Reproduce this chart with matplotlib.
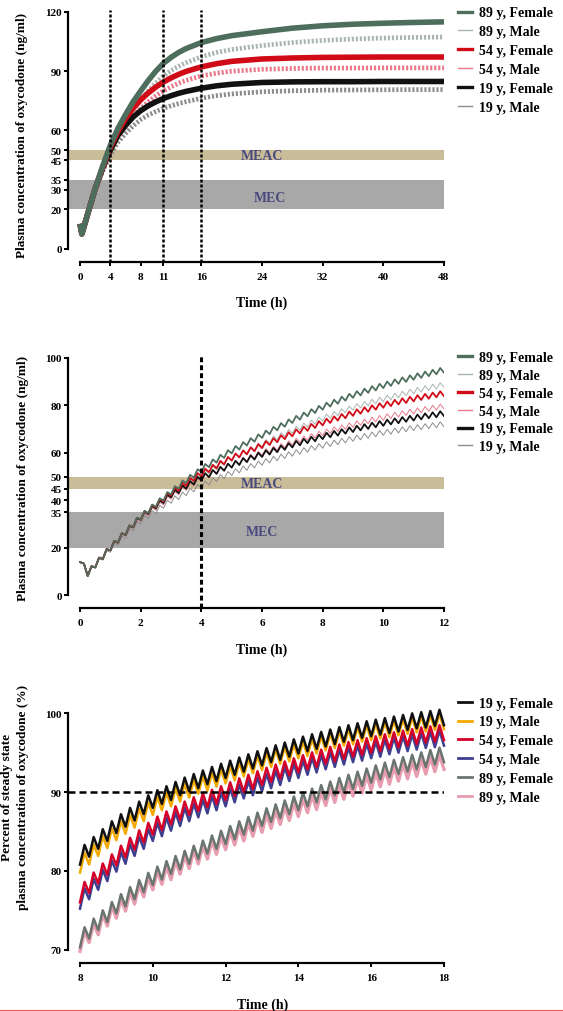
import numpy as np
import matplotlib.pyplot as plt

plt.rcParams['font.family'] = ['Liberation Serif', 'DejaVu Serif']
plt.rcParams['font.weight'] = 'bold'

labels_ab = ["89 y, Female", "89 y, Male", "54 y, Female", "54 y, Male", "19 y, Female", "19 y, Male"]

# ---- panel A : 0-48 h (band centres)
t_a = [0, 0.25, 1, 2, 3, 4, 5, 6, 7, 8, 9, 10, 11, 12, 13, 14, 16, 18, 20, 24, 28, 32, 36, 40, 44, 48]
a_89f = [12.7, 7.6, 17.5, 30.5, 42.0, 52.5, 61.0, 68.0, 74.5, 80.0, 85.3, 90.0, 94.0, 97.0, 99.5, 101.5,
         104.5, 106.5, 108.0, 110.0, 111.8, 113.0, 113.8, 114.3, 114.7, 115.0]
a_89m = [12.7, 7.6, 17.3, 30.0, 41.0, 50.5, 58.5, 65.0, 70.5, 75.5, 80.0, 84.0, 87.5, 90.3, 92.5, 94.3,
         97.3, 99.5, 101.0, 103.0, 104.5, 105.6, 106.3, 106.8, 107.1, 107.3]
a_54f = [12.7, 7.6, 17.5, 30.5, 41.5, 51.5, 59.5, 66.0, 71.2, 75.5, 79.0, 82.0, 84.5, 86.6, 88.4, 89.9,
         92.2, 93.8, 95.0, 96.2, 96.7, 97.0, 97.1, 97.2, 97.2, 97.2]
a_54m = [12.7, 7.6, 17.3, 30.0, 40.5, 49.5, 57.0, 62.5, 67.2, 71.0, 74.5, 77.5, 80.0, 82.1, 83.9, 85.4,
         87.6, 89.0, 90.0, 91.0, 91.4, 91.6, 91.6, 91.7, 91.7, 91.7]
a_19f = [12.7, 7.6, 17.5, 30.5, 41.0, 50.0, 57.5, 62.5, 66.8, 70.0, 72.5, 74.5, 76.2, 77.6, 78.8, 79.8,
         81.4, 82.6, 83.4, 84.3, 84.6, 84.7, 84.7, 84.8, 84.8, 84.8]
a_19m = [12.7, 7.6, 17.0, 29.5, 39.5, 47.5, 54.0, 58.5, 62.3, 65.5, 67.8, 69.6, 71.2, 72.5, 73.6, 74.6,
         76.3, 77.6, 78.5, 79.6, 80.1, 80.4, 80.5, 80.6, 80.7, 80.7]
vlines_a = [4, 11, 16]

# ---- panel B : 0-12 h, trough value at every dose (every 0.25 h)
t_b = np.arange(0, 12.01, 0.25)
b_89f = [14.0, 8.2, 11.8, 15.4, 19.0, 22.3, 25.5, 28.8, 32.0, 34.6, 37.3, 39.9, 42.5, 44.9, 47.3, 49.6, 52.0,
         54.0, 55.9, 57.9, 59.8, 61.4, 63.1, 64.7, 66.3, 67.9, 69.5, 71.0, 72.6, 74.0, 75.4, 76.8, 78.2,
         79.5, 80.7, 82.0, 83.2, 84.2, 85.3, 86.3, 87.3, 88.2, 89.1, 89.9, 90.8, 91.6, 92.3, 93.1, 93.8]
b_89m = [14.0, 8.2, 11.7, 15.1, 18.6, 21.8, 24.9, 28.1, 31.2, 33.7, 36.1, 38.6, 41.0, 43.1, 45.2, 47.3, 49.4,
         51.2, 52.9, 54.7, 56.5, 58.0, 59.5, 61.1, 62.6, 64.0, 65.5, 66.9, 68.3, 69.6, 70.9, 72.1, 73.4,
         74.6, 75.7, 76.9, 78.0, 78.9, 79.8, 80.7, 81.6, 82.4, 83.2, 84.1, 84.9, 85.6, 86.3, 86.9, 87.6]
b_54f = [14.0, 8.2, 11.8, 15.4, 19.0, 22.3, 25.5, 28.8, 32.0, 34.5, 37.0, 39.5, 42.0, 44.1, 46.1, 48.2, 50.2,
         51.9, 53.5, 55.2, 56.8, 58.1, 59.4, 60.7, 62.0, 63.3, 64.5, 65.8, 67.0, 68.2, 69.3, 70.5, 71.6,
         72.6, 73.6, 74.6, 75.6, 76.5, 77.3, 78.2, 79.0, 79.7, 80.4, 81.0, 81.7, 82.3, 82.8, 83.4, 83.9]
b_54m = [14.0, 8.2, 11.7, 15.1, 18.6, 21.7, 24.8, 27.9, 31.0, 33.4, 35.8, 38.1, 40.5, 42.4, 44.3, 46.1, 48.0,
         49.5, 51.0, 52.4, 53.9, 55.2, 56.4, 57.7, 58.9, 60.0, 61.1, 62.2, 63.3, 64.3, 65.3, 66.3, 67.3,
         68.2, 69.1, 69.9, 70.8, 71.6, 72.3, 73.1, 73.8, 74.5, 75.1, 75.8, 76.4, 76.9, 77.5, 78.0, 78.5]
b_19f = [14.0, 8.2, 11.8, 15.4, 19.0, 22.2, 25.4, 28.6, 31.8, 34.2, 36.6, 38.9, 41.3, 43.1, 44.9, 46.7, 48.5,
         49.8, 51.2, 52.5, 53.8, 54.9, 56.1, 57.2, 58.3, 59.3, 60.3, 61.3, 62.3, 63.2, 64.1, 64.9, 65.8,
         66.6, 67.3, 68.1, 68.8, 69.5, 70.1, 70.8, 71.4, 72.0, 72.5, 73.1, 73.6, 74.1, 74.6, 75.0, 75.5]
b_19m = [14.0, 8.2, 11.5, 14.9, 18.2, 21.2, 24.2, 27.2, 30.2, 32.4, 34.5, 36.7, 38.8, 40.4, 42.0, 43.6, 45.2,
         46.5, 47.9, 49.2, 50.5, 51.6, 52.7, 53.7, 54.8, 55.8, 56.7, 57.7, 58.6, 59.5, 60.3, 61.2, 62.0,
         62.7, 63.5, 64.2, 64.9, 65.5, 66.2, 66.8, 67.4, 67.9, 68.4, 68.9, 69.4, 69.8, 70.2, 70.6, 71.0]
swing_b = 2.3

# ---- panel C : 8-18 h, % of steady state, trough at every dose
labels_c = ["19 y, Female", "19 y, Male", "54 y, Female", "54 y, Male", "89 y, Female", "89 y, Male"]
t_c = np.arange(8, 18.01, 0.25)
c_19f = [80.8, 81.8, 82.8, 83.8, 84.8, 85.6, 86.4, 87.2, 88.0, 88.5, 89.0, 89.6, 90.1, 90.5, 91.0, 91.4, 91.8,
         92.2, 92.6, 93.0, 93.4, 93.8, 94.1, 94.5, 94.9, 95.2, 95.5, 95.8, 96.1, 96.4, 96.6, 96.9, 97.1,
         97.3, 97.5, 97.7, 97.9, 98.1, 98.2, 98.4, 98.5]
c_19m = [79.8, 80.8, 81.9, 82.9, 83.9, 84.7, 85.5, 86.3, 87.1, 87.7, 88.2, 88.8, 89.3, 89.8, 90.2, 90.7, 91.1,
         91.5, 92.0, 92.4, 92.8, 93.2, 93.6, 93.9, 94.3, 94.6, 94.9, 95.3, 95.6, 95.9, 96.1, 96.4, 96.6,
         96.8, 97.0, 97.2, 97.4, 97.6, 97.7, 97.9, 98.0]
c_54f = [76.0, 77.2, 78.4, 79.5, 80.7, 81.7, 82.7, 83.6, 84.6, 85.2, 85.9, 86.5, 87.1, 87.6, 88.1, 88.5, 89.0,
         89.5, 90.0, 90.4, 90.9, 91.3, 91.7, 92.1, 92.5, 92.9, 93.2, 93.6, 93.9, 94.2, 94.5, 94.7, 95.0,
         95.2, 95.5, 95.7, 95.9, 96.1, 96.3, 96.4, 96.6]
c_54m = [75.2, 76.4, 77.6, 78.7, 79.9, 80.9, 81.9, 82.8, 83.8, 84.4, 85.1, 85.7, 86.3, 86.8, 87.3, 87.7, 88.2,
         88.7, 89.2, 89.6, 90.1, 90.5, 90.9, 91.4, 91.8, 92.2, 92.5, 92.9, 93.2, 93.5, 93.8, 94.0, 94.3,
         94.5, 94.8, 95.0, 95.2, 95.4, 95.6, 95.7, 95.9]
c_89f = [70.3, 71.4, 72.5, 73.5, 74.6, 75.5, 76.4, 77.3, 78.2, 78.9, 79.6, 80.2, 80.9, 81.5, 82.2, 82.8, 83.4,
         84.0, 84.6, 85.1, 85.7, 86.2, 86.7, 87.2, 87.7, 88.2, 88.7, 89.1, 89.6, 90.0, 90.4, 90.8, 91.2,
         91.6, 91.9, 92.3, 92.6, 92.9, 93.2, 93.5, 93.8]
c_89m = [69.8, 70.9, 71.9, 73.0, 74.0, 74.9, 75.8, 76.7, 77.6, 78.3, 78.9, 79.6, 80.3, 80.9, 81.5, 82.1, 82.7,
         83.3, 83.8, 84.4, 84.9, 85.4, 85.9, 86.4, 86.9, 87.4, 87.8, 88.3, 88.7, 89.1, 89.5, 89.9, 90.3,
         90.7, 91.0, 91.4, 91.7, 92.0, 92.3, 92.6, 92.9]
swing_c = 2.0


def zigzag(t, lo, swing):
    # trough at each dose, peak half way to the next dose
    t = np.asarray(t, float)
    lo = np.asarray(lo, float)
    x = np.empty(2 * len(t) - 1)
    y = np.empty_like(x)
    x[0::2] = t
    y[0::2] = lo
    x[1::2] = (t[:-1] + t[1:]) / 2
    y[1::2] = (lo[:-1] + lo[1:]) / 2 + swing
    return x, y


W, H = 563, 1012
fig = plt.figure(figsize=(W / 100, H / 100), dpi=100)
fig.patch.set_facecolor('white')


def px_axes(x0, x1, y0, y1):
    return fig.add_axes([x0 / W, 1 - y1 / H, (x1 - x0) / W, (y1 - y0) / H])


def style(ax, xb, yb):
    for s in ['top', 'right']:
        ax.spines[s].set_visible(False)
    for s in ['left', 'bottom']:
        ax.spines[s].set_linewidth(1.6)
    ax.spines['bottom'].set_bounds(*xb)
    ax.spines['left'].set_bounds(*yb)
    ax.tick_params(direction='out', length=3, width=1.4, labelsize=8, pad=1.5)
    ax.tick_params(axis='x', pad=4)
    for lab in ax.get_xticklabels() + ax.get_yticklabels():
        lab.set_fontweight('bold')


def ftext(x, y, s, **kw):
    fig.text(x / W, 1 - y / H, s, ha='center', va='center', fontweight='bold', **kw)


def legend(ax, handles, labels, top, spacing=0.42):
    ax.legend(handles, labels, loc='upper left', bbox_to_anchor=(1.037, top), frameon=False,
              borderpad=0, borderaxespad=0, handlelength=1.05, handletextpad=0.5,
              labelspacing=spacing, prop={'size': 10, 'weight': 'bold'})


band_meac = '#c9bc98'
band_mec = '#a8a8a8'
band_txt = '#4a4a7e'
cols_ab = ['#4e6e5d', '#aab5af', '#d10a17', '#e8788a', '#111111', '#8c8c8c']

# ================= panel A
ax = px_axes(68, 444, 11, 263)
ax.set_xlim(-1.58, 48)
ax.set_ylim(-6.6, 121)
ax.axhspan(45, 50, color=band_meac, lw=0, zorder=0)
ax.axhspan(20, 35, color=band_mec, lw=0, zorder=0)
ax.text(24, 47.3, 'MEAC', color=band_txt, fontsize=10, ha='center', va='center', fontweight='bold')
ax.text(25, 26, 'MEC', color=band_txt, fontsize=10, ha='center', va='center', fontweight='bold')
series_a = [a_89f, a_89m, a_54f, a_54m, a_19f, a_19m]
for i in [5, 3, 1, 4, 2, 0]:
    if i % 2 == 0:
        ax.plot(t_a, series_a[i], color=cols_ab[i], lw=4.0, solid_capstyle='butt', zorder=3)
    else:
        ax.plot(t_a, series_a[i], color=cols_ab[i], lw=3.4, ls=(0, (0.45, 0.4)), zorder=2)
for xv in vlines_a:
    ax.axvline(xv, color='black', lw=1.8, ls=(0, (1.2, 0.8)), zorder=4)
ax.set_xticks([0, 4, 8, 11, 16, 24, 32, 40, 48])
ax.set_yticks([0, 20, 30, 35, 45, 50, 60, 90, 120])
style(ax, (0, 48), (0, 120))
leg_a = [plt.Line2D([], [], color=cols_ab[i], lw=2.4 if i % 2 == 0 else 1.0) for i in range(6)]
legend(ax, leg_a, labels_ab, 1.014)
ftext(22, 135, 'Plasma concentration of oxycodone (ng/ml)', rotation=90, fontsize=9.5)
ftext(262, 303, 'Time (h)', fontsize=10)

# ================= panel B
ax = px_axes(68, 444, 357, 609)
ax.set_xlim(-0.4, 12)
ax.set_ylim(-5.3, 100.8)
ax.axhspan(45, 50, color=band_meac, lw=0, zorder=0)
ax.axhspan(20, 35, color=band_mec, lw=0, zorder=0)
ax.text(6, 47, 'MEAC', color=band_txt, fontsize=10, ha='center', va='center', fontweight='bold')
ax.text(6, 26.7, 'MEC', color=band_txt, fontsize=10, ha='center', va='center', fontweight='bold')
series_b = [b_89f, b_89m, b_54f, b_54m, b_19f, b_19m]
for i in [5, 3, 1, 4, 2, 0]:
    x, y = zigzag(t_b, series_b[i], swing_b)
    ax.plot(x, y, color=cols_ab[i], lw=1.3 if i % 2 == 0 else 0.7, zorder=3 if i % 2 == 0 else 2)
ax.axvline(4, color='black', lw=2.2, ls=(0, (1.6, 1.0)), zorder=4)
ax.set_xticks([0, 2, 4, 6, 8, 10, 12])
ax.set_yticks([0, 20, 35, 40, 45, 50, 60, 80, 100])
style(ax, (0, 12), (0, 100))
leg_b = [plt.Line2D([], [], color=cols_ab[i], lw=2.4 if i % 2 == 0 else 1.0) for i in range(6)]
legend(ax, leg_b, labels_ab, 1.02, spacing=0.35)
ftext(22.7, 478, 'Plasma concentration of oxycodone (ng/ml)', rotation=90, fontsize=9.5)
ftext(262, 650, 'Time (h)', fontsize=10)

# ================= panel C
cols_c = ['#111111', '#f2a900', '#d4002a', '#3f3f8f', '#6b7570', '#e79cb0']
ax = px_axes(68, 444, 712, 964)
ax.set_xlim(7.67, 18)
ax.set_ylim(68.31, 100.3)
series_c = [c_19f, c_19m, c_54f, c_54m, c_89f, c_89m]
for i in [5, 4, 3, 2, 1, 0]:
    x, y = zigzag(t_c, series_c[i], swing_c)
    ax.plot(x, y, color=cols_c[i], lw=1.8 if i != 5 else 2.4, zorder=3, clip_on=False)
ax.axhline(90, color='black', lw=1.8, ls=(0, (2.8, 1.6)), zorder=4)
ax.set_xticks([8, 10, 12, 14, 16, 18])
ax.set_yticks([70, 80, 90, 100])
style(ax, (8, 18), (70, 100))
leg_c = [plt.Line2D([], [], color=cols_c[i], lw=2.0) for i in range(6)]
legend(ax, leg_c, labels_c, 1.057)
ftext(15, 797, 'Percent of steady state\nplasma concentration of oxycodone (%)', rotation=90,
      fontsize=9.5, linespacing=1.35, multialignment='center')
ftext(263, 1005, 'Time (h)', fontsize=10)

fig.add_artist(plt.Line2D([0, 1], [1 - 1010.5 / H] * 2, transform=fig.transFigure,
                          color='#e06060', lw=0.8))

fig.savefig('out.png', dpi=100)
